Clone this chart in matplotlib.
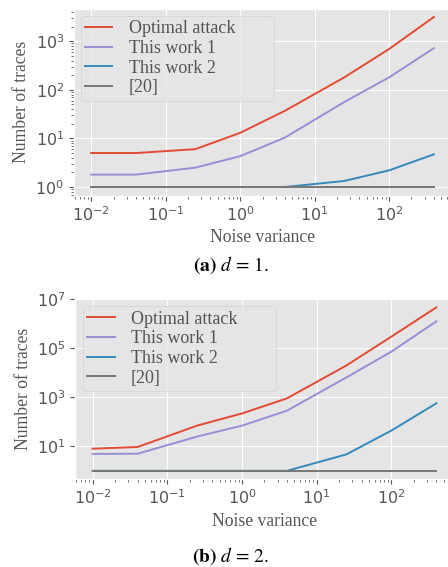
import matplotlib
matplotlib.use("Agg")
import matplotlib.pyplot as plt

plt.style.use("ggplot")

# noise variance (x axis)
variance = [0.01, 0.04, 0.25, 1, 4, 25, 100, 400]

# d = 1
optimal_d1 = [5, 5, 6, 13, 37, 180, 690, 3150]
work1_d1 = [1.8, 1.8, 2.5, 4.3, 10.4, 56, 180, 720]
work2_d1 = [1, 1, 1, 1, 1, 1.33, 2.2, 4.7]
ref20_d1 = [1, 1, 1, 1, 1, 1, 1, 1]

# d = 2
optimal_d2 = [8, 9.4, 70, 220, 910, 20000, 300000, 4700000]
work1_d2 = [4.9, 5, 25, 70, 286, 6500, 73000, 1260000]
work2_d2 = [1, 1, 1, 1, 1, 4.7, 44, 570]
ref20_d2 = [1, 1, 1, 1, 1, 1, 1, 1]

labels = ["Optimal attack", "This work 1", "This work 2", "[20]"]
colors = ["#E24A33", "#988ED5", "#348ABD", "#777777"]
captions = [r"$\mathbf{(a)}\ d\,=\,1.$", r"$\mathbf{(b)}\ d\,=\,2.$"]

serif = ["Liberation Serif", "DejaVu Serif"]
grey = "#555555"

fig = plt.figure(figsize=(4.48, 5.67), dpi=100)
ax1 = fig.add_axes([0.1652, 0.6552, 0.8415, 0.3298])
ax2 = fig.add_axes([0.1685, 0.1552, 0.8438, 0.3171])

panels = [
    (ax1, [optimal_d1, work1_d1, work2_d1, ref20_d1], (0.0178, 0.9615, 0.512, 0)),
    (ax2, [optimal_d2, work1_d2, work2_d2, ref20_d2], (0.0198, 0.962, 0.5106, 0)),
]

for ax, series, anchor in panels:
    for ys, lab, c in zip(series, labels, colors):
        ax.plot(variance, ys, label=lab, color=c, linewidth=1.4)
    ax.set_xscale("log")
    ax.set_yscale("log")
    ax.set_xlabel("Noise variance", family=serif, fontsize=12.7, color=grey)
    ax.set_ylabel("Number of traces", family=serif, fontsize=12.7, color=grey)
    ax.tick_params(labelsize=11.5, colors=grey)
    leg = ax.legend(loc="upper left", bbox_to_anchor=anchor, mode="expand",
                    prop={"family": serif, "size": 13},
                    labelspacing=0.15, handlelength=1.5, handletextpad=0.9,
                    borderaxespad=0, borderpad=0.25)
    for t in leg.get_texts():
        t.set_color(grey)

fig.text(0.515, 0.532, captions[0], ha="center", va="center",
         fontsize=14, math_fontfamily="stix", color="black")
fig.text(0.515, 0.018, captions[1], ha="center", va="center",
         fontsize=14, math_fontfamily="stix", color="black")

fig.savefig("out.png", dpi=100)
